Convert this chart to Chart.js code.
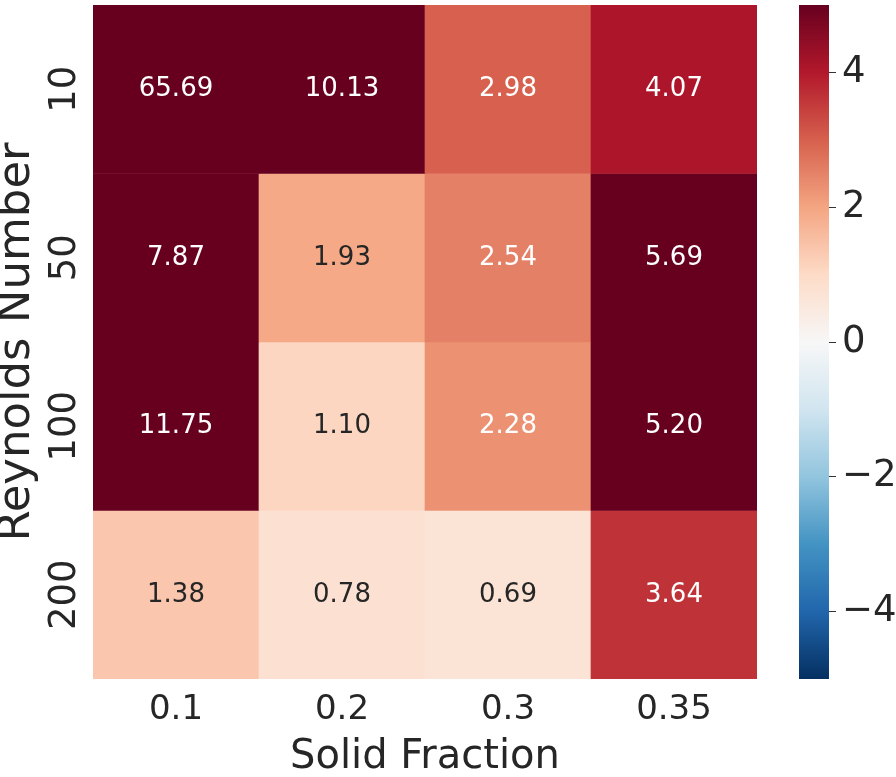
<!DOCTYPE html>
<html>
<head>
<meta charset="utf-8">
<title>Reynolds Number vs Solid Fraction</title>
<script src="https://cdn.jsdelivr.net/npm/chart.js@4.4.1/dist/chart.umd.min.js"></script>
<style>
  html, body { margin: 0; padding: 0; background: #fff; }
  #wrap { position: relative; width: 896px; height: 777px; overflow: hidden; }
  #heat { position: absolute; left: 0; top: 0; }
  #cbar { position: absolute; left: 780px; top: 0; }
</style>
</head>
<body>
<div id="wrap">
  <canvas id="heat" width="780" height="777"></canvas>
  <canvas id="cbar" width="116" height="777"></canvas>
</div>
<script>
// Column and row categories
const solidFractions = ['0.1', '0.2', '0.3', '0.35'];
const reynoldsNumbers = ['10', '50', '100', '200'];

// Cell values, one array per Reynolds number (row)
const re10 = [65.69, 10.13, 2.98, 4.07];
const re50 = [7.87, 1.93, 2.54, 5.69];
const re100 = [11.75, 1.10, 2.28, 5.20];
const re200 = [1.38, 0.78, 0.69, 3.64];

// Colour scale limits and colorbar ticks
const vmin = -5;
const vmax = 5;
const colorbarTicks = [-4, -2, 0, 2, 4];

// RdBu reversed (blue -> white -> red)
const rdbuR = ['#053061', '#2166ac', '#4393c3', '#92c5de', '#d1e5f0', '#f7f7f7',
  '#fddbc7', '#f4a582', '#d6604d', '#b2182b', '#67001f'];

const textDark = '#262626';
const fontFamily = '"DejaVu Sans", sans-serif';
Chart.defaults.font.family = fontFamily;
Chart.defaults.color = textDark;

const hexToRgb = function (hex) {
  const n = parseInt(hex.slice(1), 16);
  return [(n >> 16) & 255, (n >> 8) & 255, n & 255];
};

// Map a value onto the colormap
const cmapRgb = function (v) {
  const t = Math.min(Math.max((v - vmin) / (vmax - vmin), 0), 1) * (rdbuR.length - 1);
  const i = Math.min(Math.floor(t), rdbuR.length - 2);
  const f = t - i;
  const a = hexToRgb(rdbuR[i]);
  const b = hexToRgb(rdbuR[i + 1]);
  return a.map((c, k) => Math.round(c + (b[k] - c) * f));
};
const cmap = v => `rgb(${cmapRgb(v).join(',')})`;

// Same rule seaborn uses to pick annotation colour
const annotColor = function (v) {
  const lin = cmapRgb(v).map(x => {
    x /= 255;
    return x <= 0.03928 ? x / 12.92 : Math.pow((x + 0.055) / 1.055, 2.4);
  });
  const lum = 0.2126 * lin[0] + 0.7152 * lin[1] + 0.0722 * lin[2];
  return lum > 0.408 ? textDark : '#ffffff';
};

const rows = [re10, re50, re100, re200];

// Writes the value in each cell
const cellLabels = {
  id: 'cellLabels',
  afterDatasetsDraw(chart) {
    const ctx = chart.ctx;
    ctx.save();
    ctx.font = `26px ${fontFamily}`;
    ctx.textAlign = 'center';
    ctx.textBaseline = 'middle';
    chart.data.datasets.forEach((ds, i) => {
      chart.getDatasetMeta(i).data.forEach((bar, j) => {
        const v = ds.values[j];
        ctx.fillStyle = annotColor(v);
        ctx.fillText(v.toFixed(2), bar.x, (bar.y + bar.base) / 2);
      });
    });
    ctx.restore();
  }
};

// Vertical row labels on the y axis
const rowLabels = {
  id: 'rowLabels',
  afterDraw(chart) {
    const ctx = chart.ctx;
    const y = chart.scales.y;
    ctx.save();
    ctx.font = `37px ${fontFamily}`;
    ctx.fillStyle = textDark;
    ctx.textAlign = 'center';
    ctx.textBaseline = 'alphabetic';
    reynoldsNumbers.forEach((label, i) => {
      ctx.save();
      ctx.translate(75, y.getPixelForValue(i + 0.5));
      ctx.rotate(-Math.PI / 2);
      ctx.fillText(label, 0, 0);
      ctx.restore();
    });
    ctx.restore();
  }
};

// Heatmap: one floating bar per cell, row index on the y scale
new Chart(document.getElementById('heat'), {
  type: 'bar',
  data: {
    labels: solidFractions,
    datasets: rows.map((vals, i) => ({
      label: reynoldsNumbers[i],
      data: vals.map(() => [i, i + 1]),
      values: vals,
      backgroundColor: vals.map(cmap),
      borderWidth: 0,
      borderSkipped: false,
      grouped: false,
      barPercentage: 1,
      categoryPercentage: 1
    }))
  },
  options: {
    responsive: false,
    animation: false,
    devicePixelRatio: 1,
    layout: { padding: { top: 5, right: 23, left: 0, bottom: 0 } },
    plugins: { legend: { display: false }, tooltip: { enabled: false } },
    scales: {
      x: {
        grid: { display: false, drawTicks: false },
        border: { display: false },
        ticks: { font: { size: 34 }, color: textDark, padding: 11 },
        title: {
          display: true,
          text: 'Solid Fraction',
          color: textDark,
          font: { size: 40, lineHeight: 0.95 },
          padding: 0
        },
        afterFit: s => { s.height = 98; }
      },
      y: {
        min: 0,
        max: 4,
        reverse: true,
        grid: { display: false, drawTicks: false },
        border: { display: false },
        ticks: { display: false },
        title: {
          display: true,
          text: 'Reynolds Number',
          color: textDark,
          font: { size: 45, lineHeight: 0.77 },
          padding: 0
        },
        afterFit: s => { s.width = 93; }
      }
    }
  },
  plugins: [cellLabels, rowLabels]
});

// Colorbar gradient built from the colorbar's own y scale
const barGradient = function (chart) {
  const y = chart.scales.y;
  if (!y) return rdbuR[5];
  const y0 = y.getPixelForValue(vmin);
  const y1 = y.getPixelForValue(vmax);
  if (!isFinite(y0) || !isFinite(y1)) return rdbuR[5];
  const g = chart.ctx.createLinearGradient(0, y0, 0, y1);
  rdbuR.forEach((c, i) => g.addColorStop(i / (rdbuR.length - 1), c));
  return g;
};

new Chart(document.getElementById('cbar'), {
  type: 'bar',
  data: {
    labels: [''],
    datasets: [{
      data: [[vmin, vmax]],
      backgroundColor: ctx => barGradient(ctx.chart),
      borderWidth: 0,
      borderSkipped: false,
      barPercentage: 1,
      categoryPercentage: 1
    }]
  },
  options: {
    responsive: false,
    animation: false,
    devicePixelRatio: 1,
    layout: { padding: { top: 5, bottom: 98, left: 19, right: 0 } },
    plugins: { legend: { display: false }, tooltip: { enabled: false } },
    scales: {
      x: { display: false },
      y: {
        position: 'right',
        min: vmin,
        max: vmax,
        afterBuildTicks: s => { s.ticks = colorbarTicks.map(v => ({ value: v })); },
        ticks: {
          font: { size: 37 },
          color: textDark,
          padding: 6,
          callback: v => (v < 0 ? '\u2212' + Math.abs(v) : String(v))
        },
        grid: { drawOnChartArea: false, tickLength: 7, tickColor: '#333333', tickWidth: 1 },
        border: { display: false },
        afterFit: s => {
          s.width = 67;
          // labels sit well inside the bar, no extra room needed above or below
          s.paddingTop = 0;
          s.paddingBottom = 0;
        }
      }
    }
  }
});
</script>
</body>
</html>
